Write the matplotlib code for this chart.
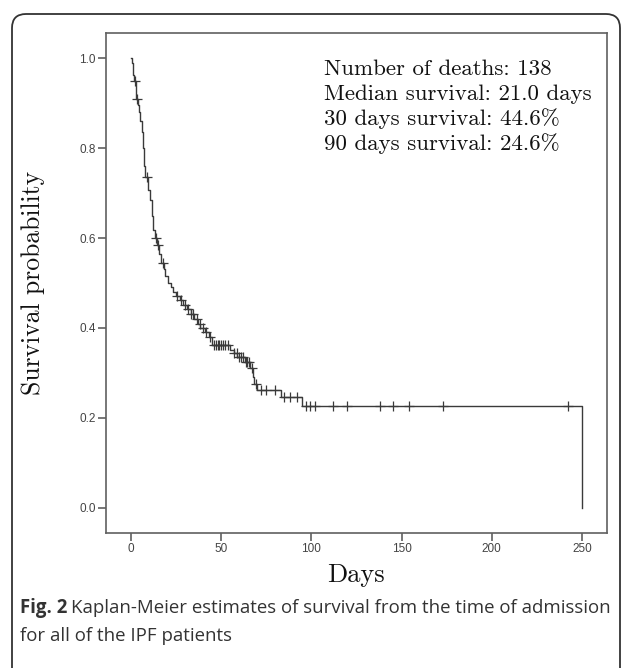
import numpy as np
import matplotlib
matplotlib.use("Agg")
import matplotlib.pyplot as plt
from matplotlib.patches import FancyBboxPatch
from matplotlib.transforms import IdentityTransform

# ----------------------------
# Data
# ----------------------------
step_days = [0, 0.6, 1.0, 1.5, 2.5, 3.0, 3.8, 4.5, 5.2, 6.0, 6.5, 7.0, 8.0, 9.5,
             10.5, 11.5, 12.0, 13.0, 14.5, 15.5, 16.5, 18.0, 19.0, 20.5, 22.0,
             23.5, 25.0, 27.0, 29.0, 31.0, 33.0, 35.0, 37.0, 38.5, 41.0, 43.0,
             45.0, 55.0, 57.0, 59.0, 63.0, 66.0, 67.5, 68.0, 70.0, 83.0, 95.0, 250.0]
step_surv = [1.0, 0.989, 0.962, 0.950, 0.930, 0.910, 0.895, 0.880, 0.860, 0.836,
             0.800, 0.760, 0.735, 0.707, 0.684, 0.650, 0.618, 0.600, 0.585, 0.565,
             0.544, 0.530, 0.515, 0.500, 0.490, 0.480, 0.472, 0.462, 0.450, 0.442,
             0.432, 0.420, 0.408, 0.400, 0.392, 0.380, 0.362, 0.352, 0.345, 0.335,
             0.325, 0.312, 0.290, 0.276, 0.262, 0.247, 0.226, 0.0]

censor_days = [2.2, 3.3, 8.8, 14.0, 15.0, 17.5, 25.5, 27.5, 30.0, 31.5, 33.5, 34.5,
               36.5, 38.0, 40.0, 41.5, 44.0, 46.0, 47.0, 48.0, 49.0, 50.0, 51.0,
               52.0, 54.0, 57.0, 58.5, 60.0, 61.0, 62.0, 63.5, 64.5, 65.5, 67.0,
               69.5, 72.0, 75.0, 80.0, 85.0, 88.0, 92.0, 97.0, 99.0, 102.0, 112.0,
               120.0, 138.0, 145.0, 154.0, 173.0, 242.0]

info_lines = ["Number of deaths: 138",
              "Median survival: 21.0 days",
              "30 days survival: 44.6%",
              "90 days survival: 24.6%"]

x_ticks = [0, 50, 100, 150, 200, 250]
y_ticks = [0.0, 0.2, 0.4, 0.6, 0.8, 1.0]

# survival value at each censoring time (step function, post)
sd = np.array(step_days)
ss = np.array(step_surv)
censor_surv = ss[np.searchsorted(sd, censor_days, side="right") - 1]

# ----------------------------
# Figure
# ----------------------------
fig = plt.figure(figsize=(6.22, 6.68), dpi=100)
ax = fig.add_axes([0.1704, 0.2021, 0.8055, 0.7485])

line_col = "#3a3a3a"
ax.step(sd, ss, where="post", color=line_col, lw=1.0)
ax.plot(censor_days, censor_surv, "+", color=line_col, ms=7, mew=0.9)

ax.set_xlim(-13.9, 263.9)
ax.set_ylim(-0.0556, 1.0556)
ax.set_xticks(x_ticks)
ax.set_yticks(y_ticks)
ax.set_xticklabels([str(v) for v in x_ticks])
ax.set_yticklabels(["%.1f" % v for v in y_ticks])

for s in ax.spines.values():
    s.set_color("#606060")
    s.set_linewidth(1.2)
ax.tick_params(direction="out", length=6, width=1.2, color="#606060",
               labelcolor="#444444", labelsize=8.5, pad=1.5)
for lab in ax.get_xticklabels() + ax.get_yticklabels():
    lab.set_family("Liberation Sans")

# info text
for i, txt in enumerate(info_lines):
    ax.text(107, 0.976 - i * 0.0555, txt, family="cmr10", fontsize=16.5,
            color="#111111", va="center", ha="left")

fig.text(33 / 622, 1 - 283 / 668, "Survival probability", family="cmr10",
         fontsize=18.5, rotation=90, ha="center", va="center", color="#111111")
fig.text(356 / 622, 1 - 575 / 668, "Days", family="cmr10", fontsize=19,
         ha="center", va="center", color="#111111")

# caption
cap_size = 13.4
t1 = fig.text(20 / 622, 1 - 608 / 668, "Fig. 2", family="Open Sans",
              fontweight="bold", fontsize=cap_size, color="#333333", va="center")
fig.canvas.draw()
bb = t1.get_window_extent()
fig.text((bb.x1 + 4) / 622, 1 - 608 / 668,
         "Kaplan-Meier estimates of survival from the time of admission",
         family="Open Sans", fontsize=cap_size, color="#333333", va="center")
fig.text(20 / 622, 1 - 636 / 668, "for all of the IPF patients",
         family="Open Sans", fontsize=cap_size, color="#333333", va="center")

# rounded frame around the figure
frame = FancyBboxPatch((12, -30), 608, 668 - 14 + 30,
                       boxstyle="round,pad=0,rounding_size=14",
                       transform=IdentityTransform(), fill=False,
                       edgecolor="#333333", lw=1.3)
fig.add_artist(frame)

fig.savefig("out.png", dpi=100)
